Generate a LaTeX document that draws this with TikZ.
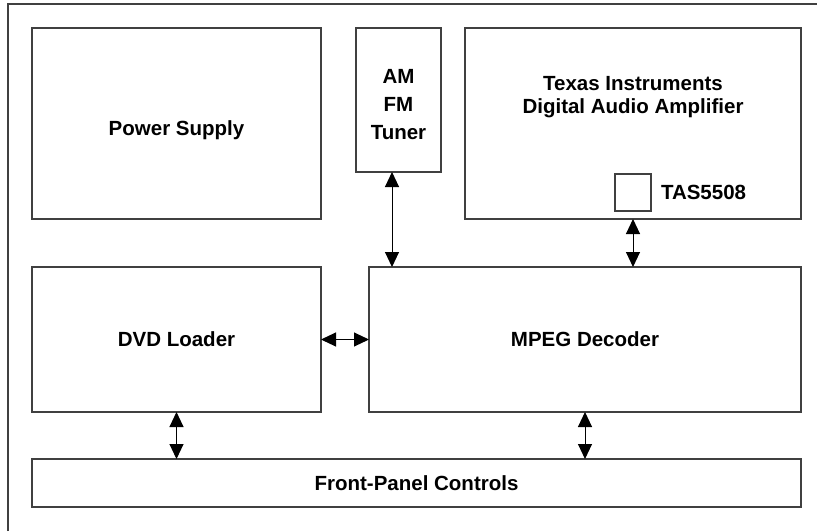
\documentclass[tikz,border=0pt]{standalone}
\usepackage{fontspec}
\setmainfont{Liberation Sans}
\usetikzlibrary{arrows.meta}

\tikzset{
    blk/.style={draw=black!75, line width=1.3pt, inner sep=0pt, outer sep=0pt,
        font=\fontsize{20.5}{28}\selectfont\bfseries, align=center},
    link/.style={<->, line width=1pt},
}

\begin{document}
\begin{tikzpicture}[x=1pt, y=-1pt, >={Triangle[width=14pt,length=15pt]}]
        \useasboundingbox (0,0) rectangle (817,531);
        \draw[black!75, line width=1.3pt] (8,531) -- (8,4) -- (817,4);
        % top row
        \node[blk, minimum width=289pt, minimum height=191pt] (psu) at (176.5,123.5) {};
        \node[blk, minimum width=85pt, minimum height=144pt] (tuner) at (398.5,100) {};
        \node[blk, minimum width=336pt, minimum height=191pt] (amp) at (633,123.5) {};
        \node[blk, minimum width=36pt, minimum height=37pt] (tas) at (633,192.5) {};
        % middle and bottom rows
        \node[blk, minimum width=289pt, minimum height=145pt] (dvd) at (176.5,339.5) {DVD Loader};
        \node[blk, minimum width=432pt, minimum height=145pt] (mpeg) at (585,339.5) {MPEG Decoder};
        \node[blk, minimum width=769pt, minimum height=48pt] (panel) at (416.5,483) {Front-Panel Controls};
        % labels of the top row
        \node[blk, draw=none] (psutext) at (176.5,130) {Power Supply};
        \node[blk, draw=none] (tunertext) at (398.5,105) {AM\\FM\\Tuner};
        \node[blk, draw=none, font=\fontsize{20.5}{23}\selectfont\bfseries] (amptext) at (633,97) {Texas Instruments\\Digital Audio Amplifier};
        \node[blk, draw=none, anchor=west] (tastext) at (661,192) {TAS5508};
        % connections
        \draw[link] ([xshift=-6.5pt]tuner.south) -- ([xshift=-6.5pt]tuner.south |- mpeg.north);
        \draw[link] (tas.south |- amp.south) -- (tas.south |- mpeg.north);
        \draw[link] (dvd.east) -- (mpeg.west);
        \draw[link] (dvd.south) -- (dvd.south |- panel.north);
        \draw[link] (mpeg.south) -- (mpeg.south |- panel.north);
    \end{tikzpicture}
\end{document}
